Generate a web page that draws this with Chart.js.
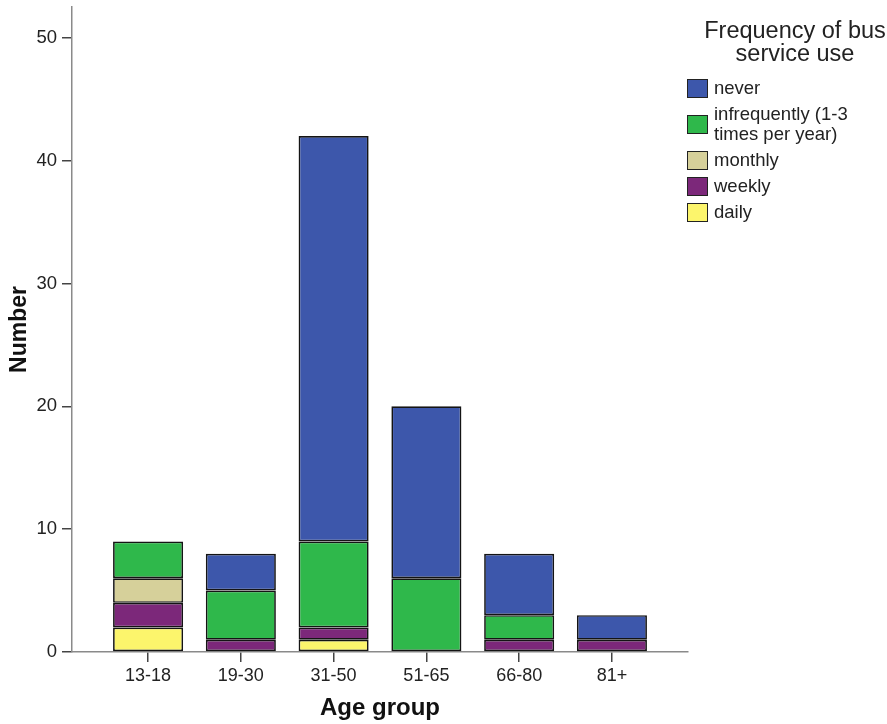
<!DOCTYPE html>
<html>
<head>
<meta charset="utf-8">
<script src="https://cdn.jsdelivr.net/npm/chart.js@4"></script>
<style>
  body { margin: 0; background: #fff; font-family: "Liberation Sans", Arial, sans-serif; }
  #wrap { position: relative; width: 887px; height: 724px; overflow: hidden; }
  #legend { position: absolute; left: 687px; top: 19px; width: 200px; color: #222; }
  #legend .title { position: relative; left: -12px; width: 240px; font-size: 23.5px; line-height: 23px; text-align: center; margin-bottom: 13px; white-space: nowrap; }
  #legend .item { display: flex; align-items: center; margin-bottom: 6px; }
  #legend .box { width: 19px; height: 17px; border: 1.5px solid #222; flex: none; }
  #legend .label { margin-left: 6px; font-size: 18.5px; line-height: 20px; white-space: nowrap; }
</style>
</head>
<body>
<div id="wrap">
  <canvas id="chart" width="887" height="724"></canvas>
  <div id="legend"></div>
</div>
<script>
// age groups on the x axis
categories = ["13-18", "19-30", "31-50", "51-65", "66-80", "81+"]

// counts per age group, bottom of the stack first
daily = [2, 0, 1, 0, 0, 0]
weekly = [2, 1, 1, 0, 1, 1]
monthly = [2, 0, 0, 0, 0, 0]
infrequently = [3, 4, 7, 6, 2, 0]
never = [0, 3, 33, 14, 5, 2]

seriesNames = ["daily", "weekly", "monthly", ["infrequently (1-3", "times per year)"], "never"]
seriesColors = ["#fcf56c", "#7c287a", "#d6d09a", "#2fb84b", "#3d57ab"]
yTicks = [0, 10, 20, 30, 40, 50]

font = "'Liberation Sans', Arial, sans-serif"
allSeries = [daily, weekly, monthly, infrequently, never]

datasets = []
for (let i = 0; i < allSeries.length; i++) {
  datasets.push({
    label: Array.isArray(seriesNames[i]) ? seriesNames[i].join(" ") : seriesNames[i],
    data: allSeries[i].map((v, j) => ({ x: j, y: v })),
    backgroundColor: seriesColors[i],
    borderColor: "#141414",
    borderWidth: 1.7,
    borderSkipped: false,
    barPercentage: 0.755,
    categoryPercentage: 1
  })
}

new Chart(document.getElementById("chart"), {
  type: "bar",
  data: { datasets: datasets },
  options: {
    responsive: false,
    animation: false,
    layout: { padding: { top: 7, right: 199, left: 0, bottom: 0 } },
    plugins: { legend: { display: false }, tooltip: { enabled: false } },
    scales: {
      x: {
        type: "linear",
        stacked: true,
        offset: false,
        min: -0.82,
        max: 5.82,
        afterBuildTicks: (scale) => {
          scale.ticks = categories.map((c, i) => ({ value: i }))
        },
        afterFit: (scale) => { scale.height = 72 },
        ticks: {
          callback: (v) => categories[v],
          color: "#222",
          font: { family: font, size: 18 },
          padding: 3,
          maxRotation: 0,
          autoSkip: false
        },
        grid: { display: true, offset: false, drawOnChartArea: false, drawTicks: true, tickLength: 10, color: "#444", lineWidth: 1.5 },
        border: { display: true, color: "#8a8a8a", width: 1.5 },
        title: { display: true, text: "Age group", color: "#111", font: { family: font, size: 24, weight: "bold" }, padding: { top: 0, bottom: 1 } }
      },
      y: {
        stacked: true,
        min: 0,
        max: 52.5,
        afterBuildTicks: (scale) => {
          scale.ticks = yTicks.map(v => ({ value: v }))
        },
        afterFit: (scale) => {
          scale.width = 72
          scale.paddingTop = 0
        },
        ticks: { color: "#222", font: { family: font, size: 18.5 }, padding: 5 },
        grid: { display: true, drawOnChartArea: false, drawTicks: true, tickLength: 10, color: "#444", lineWidth: 1.5 },
        border: { display: true, color: "#8a8a8a", width: 1.5 },
        title: { display: true, text: "Number", color: "#111", font: { family: font, size: 23, weight: "bold" }, padding: { top: 6, bottom: 0 } }
      }
    }
  }
})

// legend, listed top to bottom in the order the stacks read
legend = document.getElementById("legend")
html = '<div class="title">Frequency of bus<br>service use</div>'
for (let i = seriesNames.length - 1; i >= 0; i--) {
  name = Array.isArray(seriesNames[i]) ? seriesNames[i].join("<br>") : seriesNames[i]
  html += '<div class="item"><div class="box" style="background:' + seriesColors[i] + '"></div><div class="label">' + name + '</div></div>'
}
legend.innerHTML = html
</script>
</body>
</html>
